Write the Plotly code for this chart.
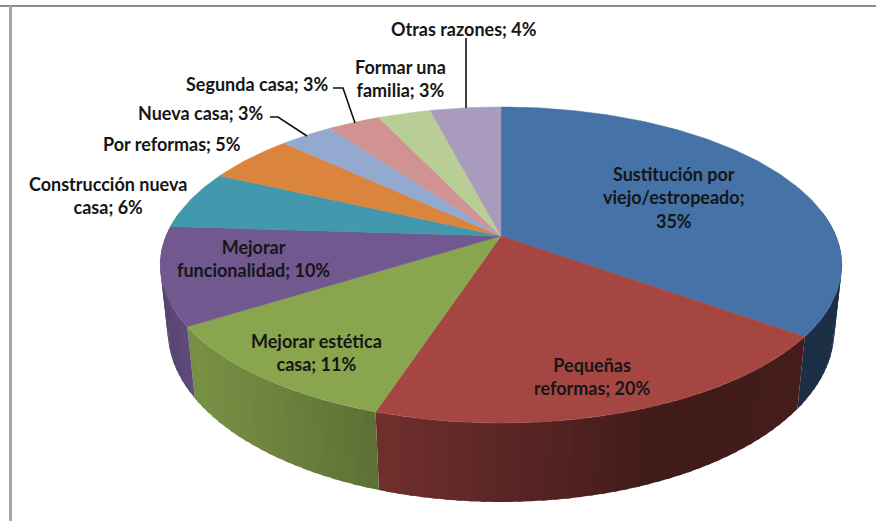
import numpy as np
import plotly.graph_objects as go

# Data
categories = ["Sustitución por viejo/estropeado", "Pequeñas reformas", "Mejorar estética casa",
              "Mejorar funcionalidad", "Construcción nueva casa", "Por reformas", "Nueva casa",
              "Segunda casa", "Formar una familia", "Otras razones"]
values = [35, 20, 11, 10, 6, 5, 3, 3, 3, 4]
colors = ["#4572A7", "#A54643", "#89A54E", "#71588F", "#4198AF", "#DB843D",
          "#93A9CF", "#D19392", "#B9CD96", "#A99BBD"]
label_texts = ["Sustitución por<br>viejo/estropeado;<br>35%", "Pequeñas<br>reformas; 20%",
               "Mejorar estética<br>casa; 11%", "Mejorar<br>funcionalidad; 10%",
               "Construcción nueva<br>casa; 6%", "Por reformas; 5%", "Nueva casa; 3%",
               "Segunda casa; 3%", "Formar una<br>familia; 3%", "Otras razones; 4%"]
label_x = [674, 592, 316, 253, 108, 172, 201, 257, 400, 464]
label_y = [197, 376, 352, 258, 195, 144, 113, 84, 78, 29]
leaders = [([466, 466], [38, 108]),
           ([333, 343, 355], [88, 88, 123]),
           ([270, 278, 307], [117, 117, 136])]

# Projection of the tilted disc onto the canvas (top face, bottom face)
TOP = dict(cx=501, cy=236, kx=335, ky=152.7, c=0.1835)
BOT = dict(cx=501, cy=300, kx=328, ky=166, c=0.178)


def proj(t, p):
    u, v = np.sin(t), np.cos(t)
    w = 1 + p["c"] * v
    return p["cx"] + p["kx"] * u / w, p["cy"] - p["ky"] * v / w


def shade(x):
    return np.interp(x, [160, 195, 375, 660, 840], [0.78, 0.88, 0.68, 0.39, 0.42])


def to_rgb(h, f=1.0):
    return "rgb(%d,%d,%d)" % tuple(int(int(h[i:i + 2], 16) * f) for i in (1, 3, 5))


edges = np.cumsum([0] + values) / sum(values) * 2 * np.pi
fig = go.Figure()


def poly(x, y, color, lw=0.0):
    fig.add_trace(go.Scatter(x=list(x), y=list(y), mode="lines", fill="toself", fillcolor=color,
                             line=dict(color=color, width=lw), hoverinfo="skip", showlegend=False))


# Side walls: strips overlap so no seams show; shading steps along the rim
for i, col in enumerate(colors):
    a, b = edges[i], edges[i + 1]
    lo, hi = max(a, np.pi * 0.45), min(b, np.pi * 1.55)
    if hi <= lo:
        continue
    n = max(2, int((hi - lo) / 0.03))
    ts = np.linspace(lo, hi, n + 1)
    for j in range(n):
        t0, t1 = ts[j], ts[j + 1]
        # later strips paint over the overlap of earlier ones
        tt = np.linspace(t0, min(t1 + 0.012, hi), 3)
        xt, yt = proj(tt, TOP)
        xb, yb = proj(tt[::-1], BOT)
        poly(np.r_[xt, xb, xt[0]], np.r_[yt, yb, yt[0]], to_rgb(col, float(shade(xt.mean()))))

# Top faces
for i, col in enumerate(colors):
    tt = np.linspace(edges[i], edges[i + 1], max(8, values[i] * 4))
    xs, ys = proj(tt, TOP)
    poly(np.r_[TOP["cx"], xs, TOP["cx"]], np.r_[TOP["cy"], ys, TOP["cy"]], col, lw=0.5)

# Leader lines
for lx, ly in leaders:
    fig.add_trace(go.Scatter(x=lx, y=ly, mode="lines", line=dict(color="#111111", width=1.6),
                             hoverinfo="skip", showlegend=False))

# Labels
for txt, x, y in zip(label_texts, label_x, label_y):
    fig.add_annotation(x=x, y=y, xref="x", yref="y", text=txt, showarrow=False, align="center",
                       xanchor="center", yanchor="middle",
                       font=dict(family="Lato", size=18, color="#161616", weight=700))

# Frame of the original picture
fig.add_shape(type="line", xref="paper", yref="paper", x0=0, x1=1, y0=1 - 6 / 521, y1=1 - 6 / 521,
              line=dict(color="#8c8c8c", width=2))
fig.add_shape(type="line", xref="paper", yref="paper", x0=10.5 / 876, x1=10.5 / 876, y0=0, y1=1 - 6 / 521,
              line=dict(color="#a6a6a6", width=3))

fig.update_layout(width=876, height=521, margin=dict(l=0, r=0, t=0, b=0),
                  paper_bgcolor="white", plot_bgcolor="white", showlegend=False,
                  xaxis=dict(range=[0, 876], visible=False, fixedrange=True),
                  yaxis=dict(range=[521, 0], visible=False, fixedrange=True))
fig.write_html("out.html", config={"displayModeBar": False},
               post_script="document.body.style.margin='0';document.body.style.overflow='hidden';")
